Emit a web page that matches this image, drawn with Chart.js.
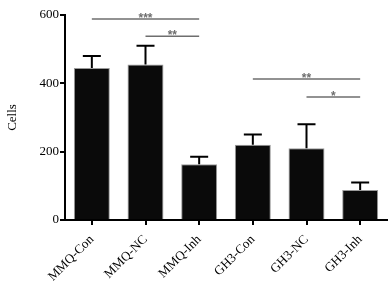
<!DOCTYPE html>
<html>
<head>
<meta charset="utf-8">
<script src="https://cdn.jsdelivr.net/npm/chart.js@4/dist/chart.umd.min.js"></script>
<style>
  html, body { margin: 0; padding: 0; background: #fff; }
  #wrap { width: 392px; height: 281px; }
</style>
</head>
<body>
<div id="wrap"><canvas id="barChart"></canvas></div>
<script>
const labels = ["MMQ-Con", "MMQ-NC", "MMQ-Inh", "GH3-Con", "GH3-NC", "GH3-Inh"]
const cells = [445, 455, 163, 220, 210, 88]
const errTop = [480, 510, 185, 250, 280, 110]
const yTicks = [0, 200, 400, 600]

// significance brackets: from bar, to bar, height (in Cells), stars
const sigFrom = [0, 1, 3, 4]
const sigTo = [2, 2, 5, 5]
const sigHeight = [588, 538, 413, 360]
const sigText = ["***", "**", "**", "*"]

const SERIF = "'Liberation Serif', 'Times New Roman', serif"

const errorBars = {
    id: 'errorBars',
    afterDatasetsDraw(chart) {
        const ctx = chart.ctx
        const y = chart.scales.y
        const meta = chart.getDatasetMeta(0)
        ctx.save()
        ctx.strokeStyle = '#000'
        ctx.lineWidth = 2
        meta.data.forEach((bar, i) => {
            const top = y.getPixelForValue(errTop[i])
            ctx.beginPath()
            ctx.moveTo(bar.x, bar.y)
            ctx.lineTo(bar.x, top)
            ctx.moveTo(bar.x - 9, top)
            ctx.lineTo(bar.x + 9, top)
            ctx.stroke()
        })
        ctx.restore()
    }
}

const sigLines = {
    id: 'sigLines',
    afterDraw(chart) {
        const ctx = chart.ctx
        const y = chart.scales.y
        const meta = chart.getDatasetMeta(0)
        ctx.save()
        ctx.strokeStyle = '#6e6e6e'
        ctx.fillStyle = '#6e6e6e'
        ctx.lineWidth = 1.5
        ctx.font = "bold 12px 'Liberation Sans', Arial, sans-serif"
        ctx.textAlign = 'center'
        ctx.textBaseline = 'alphabetic'
        for (let i = 0; i < sigFrom.length; i++) {
            const x1 = meta.data[sigFrom[i]].x
            const x2 = meta.data[sigTo[i]].x
            const py = y.getPixelForValue(sigHeight[i])
            ctx.beginPath()
            ctx.moveTo(x1, py)
            ctx.lineTo(x2, py)
            ctx.stroke()
            ctx.fillText(sigText[i], (x1 + x2) / 2, py + 3)
        }
        ctx.restore()
    }
}

let barChart = new Chart(document.getElementById('barChart'), {
    type: 'bar',
    data: {
        labels: labels,
        datasets: [{
            label: 'Cells',
            data: cells,
            backgroundColor: '#0a0a0a',
            borderColor: '#9a9a9a',
            borderWidth: 1,
            categoryPercentage: 1,
            barPercentage: 0.67
        }]
    },
    options: {
        responsive: true,
        maintainAspectRatio: false,
        animation: false,
        layout: { padding: { top: 15, right: 5, left: 0, bottom: 0 } },
        plugins: {
            legend: { display: false },
            tooltip: { enabled: false }
        },
        scales: {
            x: {
                afterFit(scale) { scale.height = 61 },
                grid: {
                    offset: false,
                    drawOnChartArea: false,
                    drawTicks: true,
                    tickLength: 5,
                    color: '#000',
                    lineWidth: 2
                },
                border: { display: true, color: '#000', width: 2 },
                ticks: {
                    minRotation: 45,
                    maxRotation: 45,
                    padding: 7,
                    color: '#000',
                    font: { family: SERIF, size: 13 }
                }
            },
            y: {
                min: 0,
                max: 600,
                afterFit(scale) { scale.width = 65 },
                afterBuildTicks(scale) { scale.ticks = yTicks.map(v => ({ value: v })) },
                grid: {
                    drawOnChartArea: false,
                    drawTicks: true,
                    tickLength: 5,
                    color: '#000',
                    lineWidth: 2
                },
                border: { display: true, color: '#000', width: 2 },
                ticks: {
                    padding: 1,
                    color: '#000',
                    font: { family: SERIF, size: 13 }
                },
                title: {
                    display: true,
                    text: 'Cells',
                    color: '#000',
                    padding: { top: 5, bottom: 0 },
                    font: { family: SERIF, size: 13 }
                }
            }
        }
    },
    plugins: [errorBars, sigLines]
})
</script>
</body>
</html>
